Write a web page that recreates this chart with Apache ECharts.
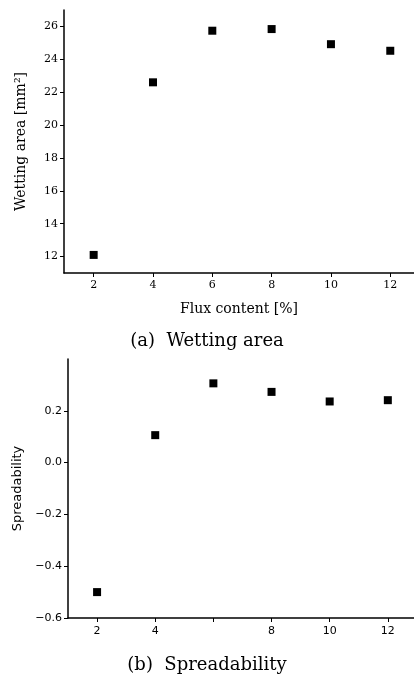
<!DOCTYPE html>
<html>
<head>
<meta charset="utf-8">
<script src="https://cdn.jsdelivr.net/npm/echarts@6/dist/echarts.min.js"></script>
<style>html,body{margin:0;padding:0;background:#fff}#c{width:414px;height:675px}</style>
</head>
<body>
<div id="c"></div>
<script>
// Data
const fluxContent = [2, 4, 6, 8, 10, 12];
const wettingArea = [12.1, 22.6, 25.74, 25.84, 24.92, 24.52];
const spreadability = [-0.50, 0.106, 0.306, 0.273, 0.236, 0.241];
const topXTicks = [2, 4, 6, 8, 10, 12];
const topYTicks = [12, 14, 16, 18, 20, 22, 24, 26];
const botXTicks = [2, 4, 6, 8, 10, 12];
const botXLabels = [2, 4, 8, 10, 12];
const botYTicks = [-0.6, -0.4, -0.2, 0.0, 0.2];

const serif = 'DejaVu Serif';
const sans = 'DejaVu Sans';
const axisLine = {show: true, onZero: false, lineStyle: {color: '#000', width: 1.5}};

const chart = echarts.init(document.getElementById('c'), null, {renderer: 'canvas'});
chart.setOption({
  backgroundColor: '#fff',
  animation: false,
  title: [
    {text: '(a)  Wetting area', left: 'center', top: 327,
     textStyle: {fontFamily: serif, fontSize: 18, fontWeight: 'normal', color: '#000'}},
    {text: '(b)  Spreadability', left: 'center', top: 651,
     textStyle: {fontFamily: serif, fontSize: 18, fontWeight: 'normal', color: '#000'}}
  ],
  grid: [
    {left: 64, top: 10, right: 0, bottom: 402},
    {left: 68, top: 359, right: 0, bottom: 57}
  ],
  xAxis: [
    {gridIndex: 0, type: 'value', min: 1, max: 12.8,
     name: 'Flux content [%]', nameLocation: 'middle', nameGap: 29,
     nameTextStyle: {fontFamily: serif, fontSize: 14, color: '#000'},
     axisLine: axisLine, splitLine: {show: false},
     axisTick: {show: true, length: 4, customValues: topXTicks, lineStyle: {color: '#000'}},
     axisLabel: {customValues: topXTicks, fontFamily: serif, fontSize: 11, color: '#000', margin: 7}},
    {gridIndex: 1, type: 'value', min: 1, max: 12.9,
     axisLine: axisLine, splitLine: {show: false},
     axisTick: {show: true, length: 4, customValues: botXTicks, lineStyle: {color: '#000'}},
     axisLabel: {customValues: botXLabels, fontFamily: sans, fontSize: 11, color: '#000', margin: 8}}
  ],
  yAxis: [
    {gridIndex: 0, type: 'value', min: 11, max: 27,
     name: 'Wetting area [mm²]', nameLocation: 'middle', nameGap: 36,
     nameTextStyle: {fontFamily: serif, fontSize: 14, color: '#000'},
     axisLine: axisLine, splitLine: {show: false},
     axisTick: {show: true, length: 4, customValues: topYTicks, lineStyle: {color: '#000'}},
     axisLabel: {customValues: topYTicks, fontFamily: serif, fontSize: 11, color: '#000', margin: 6}},
    {gridIndex: 1, type: 'value', min: -0.6, max: 0.4,
     name: 'Spreadability', nameLocation: 'middle', nameGap: 44,
     nameTextStyle: {fontFamily: sans, fontSize: 13, color: '#000'},
     axisLine: axisLine, splitLine: {show: false},
     axisTick: {show: true, length: 4, customValues: botYTicks, lineStyle: {color: '#000'}},
     axisLabel: {customValues: botYTicks, fontFamily: sans, fontSize: 11, color: '#000', margin: 6,
       formatter: v => (v < 0 ? '\u2212' : '') + Math.abs(v).toFixed(1)}}
  ],
  series: [
    {type: 'scatter', xAxisIndex: 0, yAxisIndex: 0, symbol: 'rect', symbolSize: 8,
     itemStyle: {color: '#000', opacity: 1}, data: fluxContent.map((x, i) => [x, wettingArea[i]])},
    {type: 'scatter', xAxisIndex: 1, yAxisIndex: 1, symbol: 'rect', symbolSize: 8,
     itemStyle: {color: '#000', opacity: 1}, data: fluxContent.map((x, i) => [x, spreadability[i]])}
  ]
});
</script>
</body>
</html>
